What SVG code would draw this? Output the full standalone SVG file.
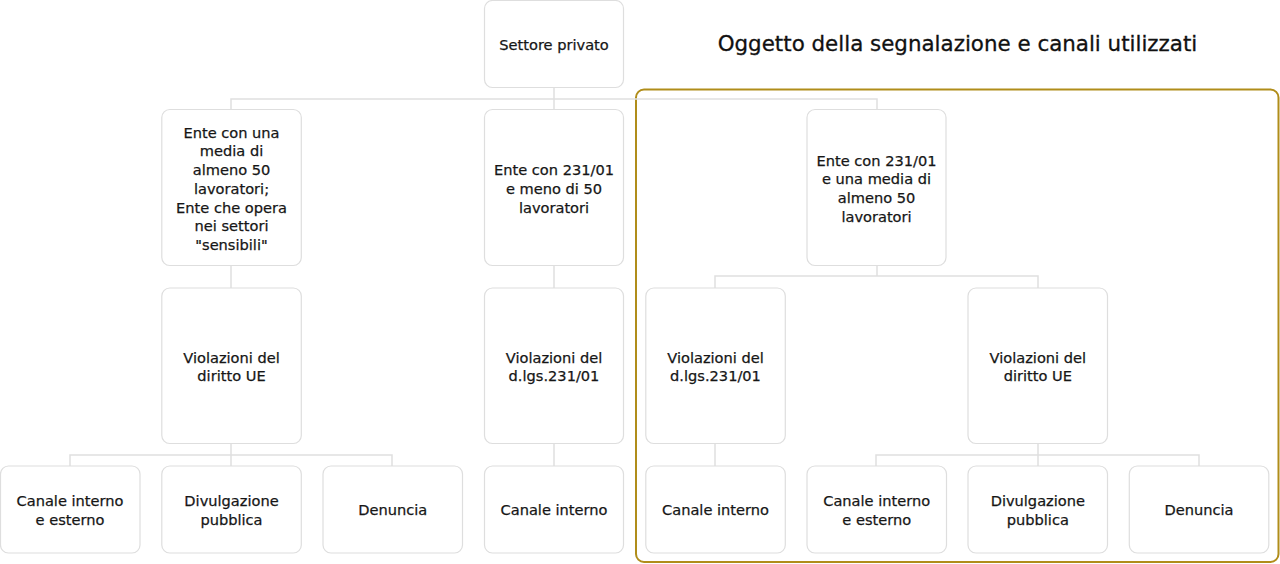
<svg xmlns="http://www.w3.org/2000/svg" width="1280" height="564" viewBox="0 0 1280 564">
<style>
.box{fill:#ffffff;stroke:#dedede;stroke-width:1.2}
.t{font-family:"DejaVu Sans",sans-serif;font-size:14.6px;fill:#161616;stroke:#161616;stroke-width:0.25;text-anchor:middle;dominant-baseline:central}
.title{font-family:"DejaVu Sans",sans-serif;font-size:21.4px;fill:#111111;stroke:#111111;stroke-width:0.3;text-anchor:middle;dominant-baseline:central}
.c{fill:none;stroke:#e0e0e0;stroke-width:1.5}
.frame{fill:none;stroke:#b08d1a;stroke-width:2}
</style>
<rect width="1280" height="564" fill="#ffffff"/>
<rect class="frame" x="636" y="89.5" width="642.5" height="472.5" rx="8"/>
<text class="title" x="957.5" y="43.5">Oggetto della segnalazione e canali utilizzati</text>
<g id="connectors">
<path class="c" d="M554 88V99M231 109V99H877V109M554 99V109"/>
<path class="c" d="M231 265V288M231 443V455M70 466V455H392V466M231 455V466"/>
<path class="c" d="M554 265V288M554 443V466"/>
<path class="c" d="M877 265V276M715 288V276H1038V288"/>
<path class="c" d="M715 443V466M1038 443V455M876 466V455H1199V466M1038 455V466"/>
</g>
<g id="n-root"><rect class="box" x="484.5" y="0.5" width="139" height="87" rx="8"/><text class="t" x="554" y="44">Settore privato</text></g>
<g id="n-ente50"><rect class="box" x="161.8" y="109.5" width="139.5" height="156" rx="8"/>
<text class="t" x="231.5" y="131.5"><tspan x="231.5">Ente con una</tspan><tspan x="231.5" dy="18.75">media di</tspan><tspan x="231.5" dy="18.75">almeno 50</tspan><tspan x="231.5" dy="18.75">lavoratori;</tspan><tspan x="231.5" dy="18.75">Ente che opera</tspan><tspan x="231.5" dy="18.75">nei settori</tspan><tspan x="231.5" dy="18.75">"sensibili"</tspan></text></g>
<g id="n-ente231meno"><rect class="box" x="484.5" y="109.5" width="139" height="156" rx="8"/>
<text class="t" x="554" y="169"><tspan x="554">Ente con 231/01</tspan><tspan x="554" dy="18.75">e meno di 50</tspan><tspan x="554" dy="18.75">lavoratori</tspan></text></g>
<g id="n-ente231almeno"><rect class="box" x="807" y="109.5" width="139" height="156" rx="8"/>
<text class="t" x="876.5" y="159.5"><tspan x="876.5">Ente con 231/01</tspan><tspan x="876.5" dy="18.75">e una media di</tspan><tspan x="876.5" dy="18.75">almeno 50</tspan><tspan x="876.5" dy="18.75">lavoratori</tspan></text></g>
<g id="n-viol-ue-1"><rect class="box" x="161.8" y="288" width="139.5" height="155.5" rx="8"/>
<text class="t" x="231.5" y="356.5"><tspan x="231.5">Violazioni del</tspan><tspan x="231.5" dy="18.8">diritto UE</tspan></text></g>
<g id="n-viol-231-1"><rect class="box" x="484.5" y="288" width="139" height="155.5" rx="8"/>
<text class="t" x="554" y="356.5"><tspan x="554">Violazioni del</tspan><tspan x="554" dy="18.8">d.lgs.231/01</tspan></text></g>
<g id="n-viol-231-2"><rect class="box" x="645.8" y="288" width="139.5" height="155.5" rx="8"/>
<text class="t" x="715.5" y="356.5"><tspan x="715.5">Violazioni del</tspan><tspan x="715.5" dy="18.8">d.lgs.231/01</tspan></text></g>
<g id="n-viol-ue-2"><rect class="box" x="968" y="288" width="139.5" height="155.5" rx="8"/>
<text class="t" x="1037.8" y="356.5"><tspan x="1037.8">Violazioni del</tspan><tspan x="1037.8" dy="18.8">diritto UE</tspan></text></g>
<g id="n-c1"><rect class="box" x="0.5" y="466" width="139.5" height="87" rx="8"/>
<text class="t" x="70" y="500"><tspan x="70">Canale interno</tspan><tspan x="70" dy="19">e esterno</tspan></text></g>
<g id="n-c2"><rect class="box" x="161.8" y="466" width="139.5" height="87" rx="8"/>
<text class="t" x="231.5" y="500"><tspan x="231.5">Divulgazione</tspan><tspan x="231.5" dy="19">pubblica</tspan></text></g>
<g id="n-c3"><rect class="box" x="323" y="466" width="139.5" height="87" rx="8"/>
<text class="t" x="392.7" y="509.5">Denuncia</text></g>
<g id="n-c4"><rect class="box" x="484.5" y="466" width="139" height="87" rx="8"/>
<text class="t" x="554" y="509.5">Canale interno</text></g>
<g id="n-c5"><rect class="box" x="645.8" y="466" width="139.5" height="87" rx="8"/>
<text class="t" x="715.5" y="509.5">Canale interno</text></g>
<g id="n-c6"><rect class="box" x="807" y="466" width="139.5" height="87" rx="8"/>
<text class="t" x="876.7" y="500"><tspan x="876.7">Canale interno</tspan><tspan x="876.7" dy="19">e esterno</tspan></text></g>
<g id="n-c7"><rect class="box" x="968" y="466" width="139.5" height="87" rx="8"/>
<text class="t" x="1037.8" y="500"><tspan x="1037.8">Divulgazione</tspan><tspan x="1037.8" dy="19">pubblica</tspan></text></g>
<g id="n-c8"><rect class="box" x="1129.3" y="466" width="139.5" height="87" rx="8"/>
<text class="t" x="1199" y="509.5">Denuncia</text></g>
</svg>
